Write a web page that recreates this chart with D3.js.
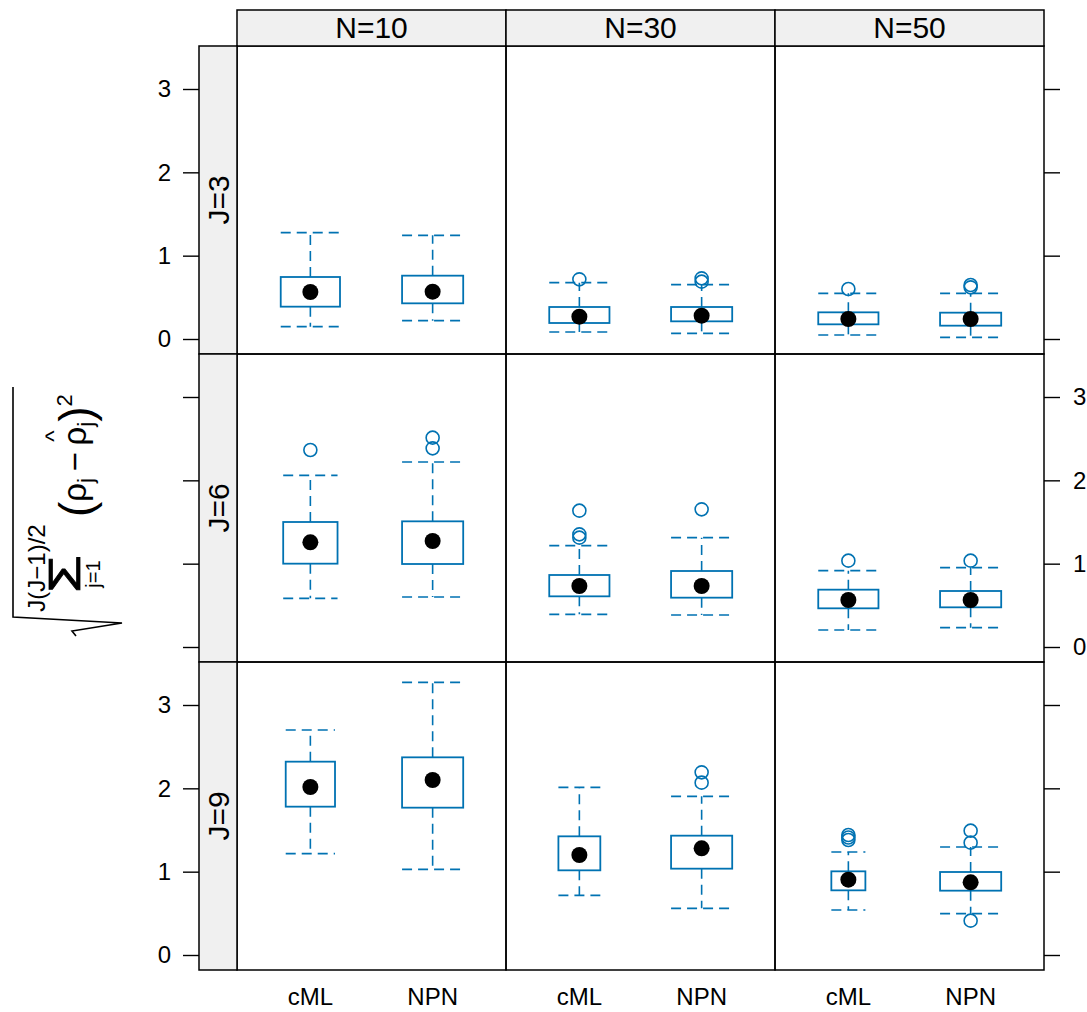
<!DOCTYPE html>
<html>
<head>
<meta charset="utf-8">
<script src="https://cdn.jsdelivr.net/npm/d3@7"></script>
<style>
  body { margin: 0; background: #fff; }
  svg { display: block; }
  text { font-family: "Liberation Sans", Arial, Helvetica, sans-serif; }
</style>
</head>
<body>
<svg id="chart" width="1087" height="1012"></svg>
<script>
// Conditioning variables and groups
const sampleSizes = ["N=10", "N=30", "N=50"];
const nVars = ["J=3", "J=6", "J=9"];
const methods = ["cML", "NPN"];
const yTicks = [0, 1, 2, 3];

// Box statistics: [lower whisker, Q1, median, Q3, upper whisker]
// order within each row: N=10 cML, N=10 NPN, N=30 cML, N=30 NPN, N=50 cML, N=50 NPN
const fiveNumJ3 = [
  [0.148, 0.388, 0.564, 0.744, 1.276],
  [0.220, 0.428, 0.568, 0.760, 1.244],
  [0.084, 0.192, 0.268, 0.384, 0.676],
  [0.068, 0.212, 0.280, 0.384, 0.652],
  [0.048, 0.176, 0.240, 0.320, 0.548],
  [0.020, 0.160, 0.240, 0.316, 0.548]
];
const fiveNumJ6 = [
  [0.584, 1.000, 1.256, 1.500, 2.060],
  [0.600, 0.996, 1.272, 1.508, 2.220],
  [0.392, 0.608, 0.732, 0.864, 1.216],
  [0.384, 0.592, 0.732, 0.912, 1.312],
  [0.204, 0.464, 0.564, 0.688, 0.916],
  [0.232, 0.476, 0.564, 0.672, 0.952]
];
const fiveNumJ9 = [
  [1.216, 1.780, 2.016, 2.320, 2.700],
  [1.028, 1.768, 2.100, 2.372, 3.272],
  [0.716, 1.016, 1.200, 1.424, 2.012],
  [0.560, 1.036, 1.280, 1.432, 1.904],
  [0.540, 0.776, 0.904, 1.004, 1.236],
  [0.496, 0.772, 0.872, 0.996, 1.296]
];

// Points beyond the whiskers
const outliersJ3 = [[], [], [0.716], [0.688, 0.728], [0.600], [0.620, 0.648]];
const outliersJ6 = [[2.364], [2.384, 2.512], [1.312, 1.352, 1.636], [1.652], [1.036], [1.036]];
const outliersJ9 = [[], [], [], [2.068, 2.192], [1.380, 1.410, 1.440], [0.412, 1.348, 1.492]];

// Usable replications per cell (box width grows with the square root)
const replicatesJ3 = [94, 100, 97, 100, 97, 100];
const replicatesJ6 = [79, 100, 97, 100, 97, 100];
const replicatesJ9 = [65, 100, 47, 100, 31, 100];

const fiveNum = [fiveNumJ3, fiveNumJ6, fiveNumJ9];
const outliers = [outliersJ3, outliersJ6, outliersJ9];
const replicates = [replicatesJ3, replicatesJ6, replicatesJ9];

const boxes = [];
nVars.forEach((J, r) => {
  sampleSizes.forEach((N, c) => {
    methods.forEach((m, k) => {
      const i = c * 2 + k;
      const s = fiveNum[r][i];
      boxes.push({ J, N, method: m, lo: s[0], q1: s[1], med: s[2], q3: s[3], hi: s[4],
                   out: outliers[r][i], n: replicates[r][i] });
    });
  });
});
const nMax = d3.max(boxes, d => d.n);

// Layout
const blue = "#0072B2";
const panelLeft = 237, panelRight = 1044, panelTop = 46, panelBottom = 970;
const stripTop = 10, stripLeft = 199;
const colBand = d3.scaleBand().domain(sampleSizes).range([panelLeft, panelRight]);
const rowBand = d3.scaleBand().domain(nVars).range([panelTop, panelBottom]);

const svg = d3.select("#chart");
svg.append("rect").attr("width", 1087).attr("height", 1012).attr("fill", "#fff");

const yFor = J => d3.scaleLinear().domain([-0.18, 3.516])
  .range([rowBand(J) + rowBand.bandwidth(), rowBand(J)]);
const xFor = N => d3.scaleLinear().domain([0.4, 2.6])
  .range([colBand(N), colBand(N) + colBand.bandwidth()]);

// Boxes
const gBox = svg.append("g");
boxes.forEach(d => {
  const x = xFor(d.N), y = yFor(d.J);
  const cx = x(methods.indexOf(d.method) + 1);
  const hw = (x(1.25) - x(1)) * Math.sqrt(d.n / nMax);
  const g = gBox.append("g");
  const dash = "10,6";
  // whiskers
  g.append("line").attr("x1", cx).attr("x2", cx).attr("y1", y(d.q3)).attr("y2", y(d.hi))
    .attr("stroke", blue).attr("stroke-width", 1.6).attr("stroke-dasharray", dash);
  g.append("line").attr("x1", cx).attr("x2", cx).attr("y1", y(d.q1)).attr("y2", y(d.lo))
    .attr("stroke", blue).attr("stroke-width", 1.6).attr("stroke-dasharray", dash);
  // caps
  [d.hi, d.lo].forEach(v => {
    g.append("line").attr("x1", cx - hw).attr("x2", cx + hw).attr("y1", y(v)).attr("y2", y(v))
      .attr("stroke", blue).attr("stroke-width", 1.6).attr("stroke-dasharray", dash);
  });
  // box
  g.append("rect").attr("x", cx - hw).attr("width", 2 * hw)
    .attr("y", y(d.q3)).attr("height", y(d.q1) - y(d.q3))
    .attr("fill", "none").attr("stroke", blue).attr("stroke-width", 1.8);
  // outliers
  d.out.forEach(v => {
    g.append("circle").attr("cx", cx).attr("cy", y(v)).attr("r", 6.5)
      .attr("fill", "none").attr("stroke", blue).attr("stroke-width", 1.6);
  });
  // median
  g.append("circle").attr("cx", cx).attr("cy", y(d.med)).attr("r", 8).attr("fill", "#000");
});

// Panel borders
const gFrame = svg.append("g");
nVars.forEach(J => sampleSizes.forEach(N => {
  gFrame.append("rect").attr("x", colBand(N)).attr("y", rowBand(J))
    .attr("width", colBand.bandwidth()).attr("height", rowBand.bandwidth())
    .attr("fill", "none").attr("stroke", "#000").attr("stroke-width", 1.5);
}));

// Top strips
sampleSizes.forEach(N => {
  const x0 = colBand(N), w = colBand.bandwidth();
  svg.append("rect").attr("x", x0).attr("y", stripTop).attr("width", w).attr("height", panelTop - stripTop)
    .attr("fill", "#f0f0f0").attr("stroke", "#000").attr("stroke-width", 1.5);
  svg.append("text").attr("x", x0 + w / 2).attr("y", 38).attr("text-anchor", "middle")
    .attr("font-size", 30).text(N);
});

// Left strips
nVars.forEach(J => {
  const y0 = rowBand(J), h = rowBand.bandwidth();
  svg.append("rect").attr("x", stripLeft).attr("y", y0).attr("width", panelLeft - stripLeft).attr("height", h)
    .attr("fill", "#f0f0f0").attr("stroke", "#000").attr("stroke-width", 1.5);
  svg.append("text").attr("transform", `translate(229,${y0 + h / 2}) rotate(-90)`)
    .attr("text-anchor", "middle").attr("font-size", 30).text(J);
});

// Y axes: labels alternate left (J=3, J=9) and right (J=6)
nVars.forEach((J, r) => {
  const y = yFor(J);
  const la = svg.append("g").attr("transform", `translate(${stripLeft},0)`)
    .call(d3.axisLeft(y).tickValues(yTicks).tickSize(16).tickPadding(12)
      .tickFormat(r === 1 ? () => "" : d3.format("d")));
  const ra = svg.append("g").attr("transform", `translate(${panelRight},0)`)
    .call(d3.axisRight(y).tickValues(yTicks).tickSize(16).tickPadding(13)
      .tickFormat(r === 1 ? d3.format("d") : () => ""));
  [la, ra].forEach(a => {
    a.select(".domain").remove();
    a.selectAll(".tick line").attr("stroke", "#000").attr("stroke-width", 1.4);
    a.selectAll(".tick text").attr("font-size", 24).attr("fill", "#000")
      .attr("font-family", "'Liberation Sans', Arial, sans-serif");
  });
});

// X labels
sampleSizes.forEach(N => {
  const x = xFor(N);
  methods.forEach((m, k) => {
    svg.append("text").attr("x", x(k + 1)).attr("y", 1005).attr("text-anchor", "middle")
      .attr("font-size", 24).text(m);
  });
});

// Y title: sqrt( sum_{j=1}^{J(J-1)/2} (rho_j - rhohat_j)^2 )
const gt = svg.append("g").attr("transform", "translate(70,505) rotate(-90)");
gt.append("path")
  .attr("d", "M-131,6 L-126,2 L-118,52 L-112,-57 L118,-57")
  .attr("fill", "none").attr("stroke", "#000").attr("stroke-width", 1.6);
gt.append("text").attr("x", -63).attr("y", -25).attr("text-anchor", "middle")
  .attr("font-size", 24).text("J(J\u22121)/2");
gt.append("text").attr("x", -69).attr("y", 10).attr("text-anchor", "middle")
  .attr("font-size", 44).attr("textLength", 38).attr("lengthAdjust", "spacingAndGlyphs")
  .attr("stroke", "#000").attr("stroke-width", 0.8).text("\u03A3");
gt.append("text").attr("x", -69).attr("y", 30).attr("text-anchor", "middle")
  .attr("font-size", 20).text("j=1");
const mainLabel = gt.append("text").attr("x", -12).attr("y", 16).attr("font-size", 33);
mainLabel.append("tspan").attr("font-size", 46).attr("dy", 6).text("(");
mainLabel.append("tspan").attr("dy", -6).text("\u03C1");
mainLabel.append("tspan").attr("font-size", 22).attr("dy", 7).text("j");
mainLabel.append("tspan").attr("dy", -7).text("\u2009\u2212\u2009\u03C1");
mainLabel.append("tspan").attr("font-size", 22).attr("dy", 7).text("j");
mainLabel.append("tspan").attr("font-size", 46).attr("dy", -1).text(")");
mainLabel.append("tspan").attr("font-size", 22).attr("dy", -20).text("2");
const ext = mainLabel.node().getExtentOfChar(6);
gt.append("text").attr("x", ext.x + ext.width / 2).attr("y", -8).attr("text-anchor", "middle")
  .attr("font-size", 24).text("^");
</script>
</body>
</html>
